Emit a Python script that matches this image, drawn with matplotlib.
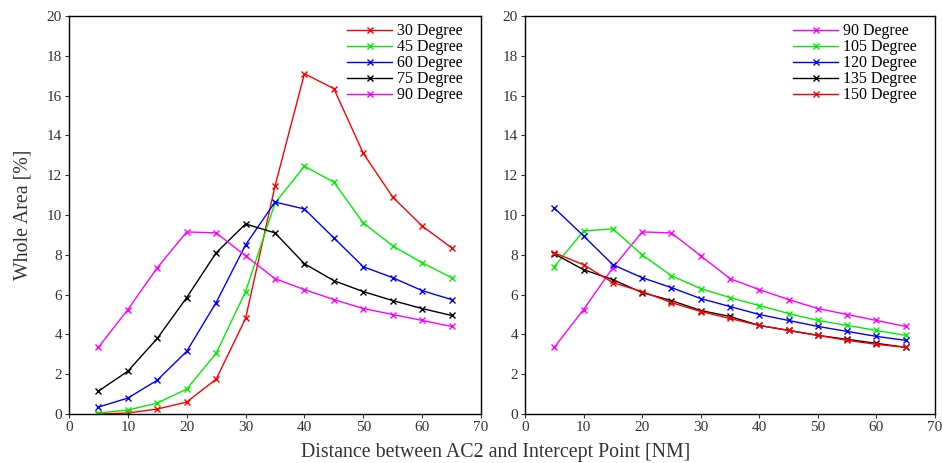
import matplotlib
matplotlib.use("Agg")
import matplotlib.pyplot as plt

plt.rcParams['font.family'] = ['Liberation Serif', 'DejaVu Serif']

dist = [5, 10, 15, 20, 25, 30, 35, 40, 45, 50, 55, 60, 65]

# left panel
deg30 = [0.0, 0.05, 0.25, 0.6, 1.75, 4.8, 11.45, 17.1, 16.35, 13.1, 10.9, 9.45, 8.35]
deg45 = [0.05, 0.2, 0.55, 1.25, 3.05, 6.15, 10.6, 12.45, 11.65, 9.6, 8.45, 7.6, 6.85]
deg60 = [0.35, 0.8, 1.7, 3.15, 5.6, 8.5, 10.65, 10.3, 8.85, 7.4, 6.85, 6.2, 5.75]
deg75 = [1.15, 2.15, 3.8, 5.85, 8.1, 9.55, 9.1, 7.55, 6.7, 6.15, 5.7, 5.3, 4.95]
deg90 = [3.35, 5.25, 7.35, 9.15, 9.1, 7.95, 6.8, 6.25, 5.75, 5.3, 5.0, 4.7, 4.4]

# right panel
deg105 = [7.4, 9.2, 9.3, 8.0, 6.95, 6.3, 5.85, 5.45, 5.05, 4.7, 4.45, 4.2, 3.95]
deg120 = [10.35, 8.95, 7.5, 6.85, 6.35, 5.8, 5.4, 5.0, 4.7, 4.4, 4.15, 3.9, 3.7]
deg135 = [8.05, 7.25, 6.75, 6.1, 5.7, 5.2, 4.9, 4.45, 4.2, 3.95, 3.75, 3.55, 3.35]
deg150 = [8.1, 7.5, 6.6, 6.15, 5.6, 5.15, 4.8, 4.45, 4.2, 3.95, 3.7, 3.5, 3.35]

left_series = [("30 Degree", deg30, "#ff0000"), ("45 Degree", deg45, "#00ee00"),
               ("60 Degree", deg60, "#0000ff"), ("75 Degree", deg75, "#000000"),
               ("90 Degree", deg90, "#ff00ff")]
right_series = [("90 Degree", deg90, "#ff00ff"), ("105 Degree", deg105, "#00ee00"),
                ("120 Degree", deg120, "#0000ff"), ("135 Degree", deg135, "#000000"),
                ("150 Degree", deg150, "#ff0000")]

fig = plt.figure(figsize=(9.42, 4.63), dpi=100)
ax1 = fig.add_axes([69/942, 1-414/463, 412/942, 398/463])
ax2 = fig.add_axes([525/942, 1-414/463, 410/942, 398/463])

for ax, series in [(ax1, left_series), (ax2, right_series)]:
    for name, vals, col in series:
        ax.plot(dist, vals, color=col, marker="x", markersize=4, linewidth=1, label=name)
    ax.set_xlim(0, 70)
    ax.set_ylim(0, 20)
    ax.set_xticks(range(0, 71, 10))
    ax.set_yticks(range(0, 21, 2))
    ax.tick_params(direction="out", length=3, labelsize=11, color="#333333", labelcolor="#333333",
                   top=False, right=False, pad=2)
    for sp in ax.spines.values():
        sp.set_linewidth(1)
    ax.legend(loc="upper right", bbox_to_anchor=(0.955, 0.982), frameon=False, fontsize=11.5,
              handlelength=2.8, handletextpad=0.3, labelspacing=0.0,
              borderpad=0, borderaxespad=0)

ax1.set_ylabel("Whole Area [%]", fontsize=14.3, color="#333333", labelpad=10)
fig.text(0.526, 0.012, "Distance between AC2 and Intercept Point [NM]", ha="center",
         fontsize=14.3, color="#333333")

fig.savefig("out.png", dpi=100)
